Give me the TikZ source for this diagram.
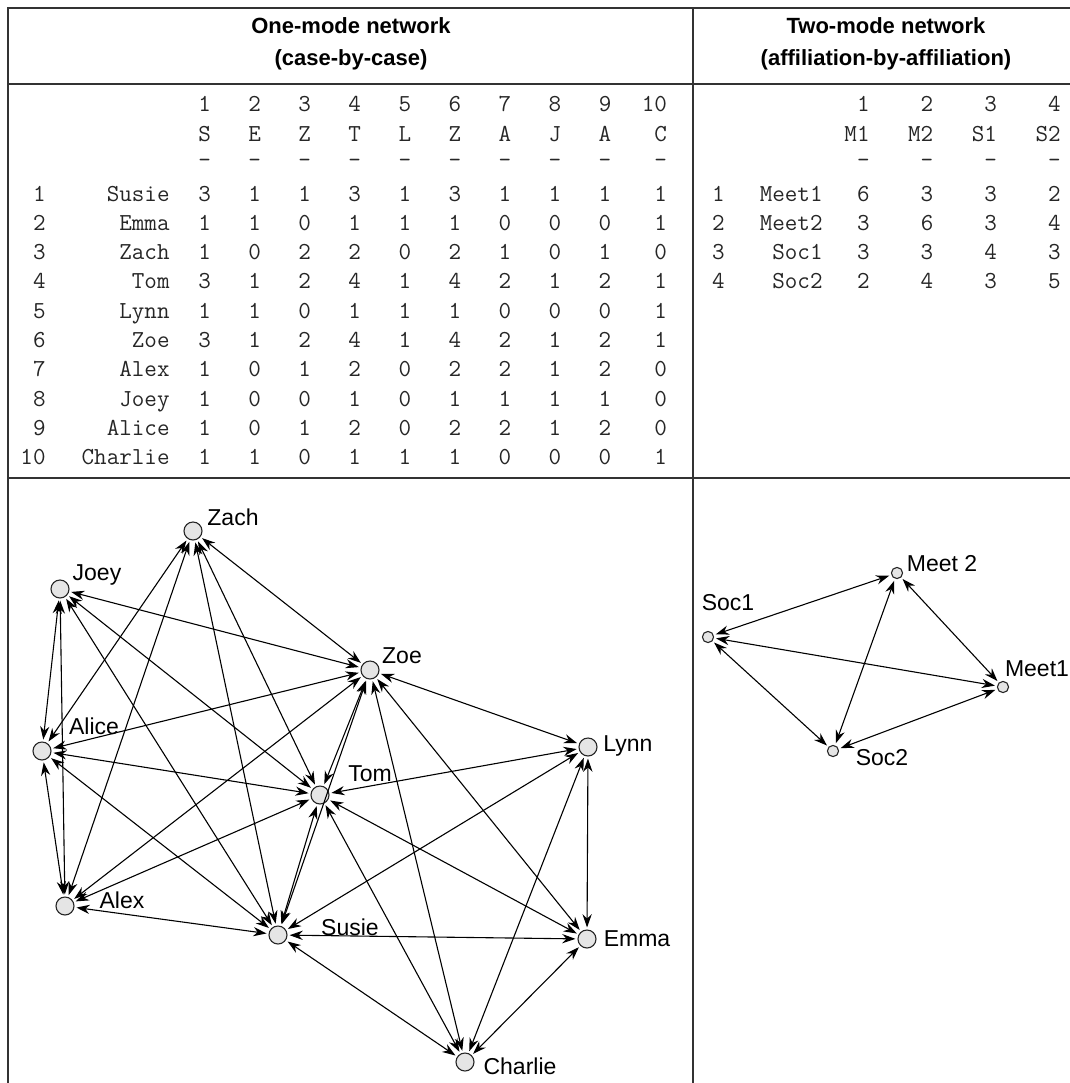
\documentclass[tikz,border=0pt]{standalone}
\usepackage{fontspec}
\setmainfont{Liberation Sans}
\usetikzlibrary{arrows.meta}

\tikzset{
  frame/.style={line width=0.8pt, black!80},
  head/.style={font=\bfseries\fontsize{11}{16}\selectfont, align=center, inner sep=0pt},
  cell/.style={font=\ttfamily\fontsize{12.2}{13}\selectfont, inner sep=0pt, anchor=base east, text=black!85},
  actor/.style={circle, draw=black!85, line width=0.55pt, fill=black!10, minimum size=9pt, inner sep=0pt},
  event/.style={actor, minimum size=5.6pt},
  tag/.style={font=\fontsize{11.5}{13}\selectfont, inner sep=0pt, text height=8.2pt, text depth=0pt},
  tie/.style={{Stealth[length=6.6pt,width=4.6pt]}-{Stealth[length=6.6pt,width=4.6pt]}, line width=0.55pt, shorten <=1pt, shorten >=1pt},
}

\begin{document}
\begin{tikzpicture}[x=0.5pt, y=-0.5pt]

\useasboundingbox (0,0) rectangle (1070,1083);

% ===== Frame =====
\draw[frame] (8,1083) -- (8,8) -- (1070,8);
\draw[frame] (8,84) -- (1070,84);
\draw[frame] (8,478) -- (1070,478);
\draw[frame] (693,8) -- (693,1083);

% ===== Headers =====
\node[head] (headone) at (351,44) {One-mode network\\(case-by-case)};
\node[head] (headtwo) at (886,44) {Two-mode network\\(affiliation-by-affiliation)};

% ===== One-mode table =====
% column numbers, initials and dashes
\foreach \n/\ini [count=\c] in {1/S,2/E,3/Z,4/T,5/L,6/Z,7/A,8/J,9/A,10/C} {
    \pgfmathsetmacro\cx{211.3+50.05*(\c-1)+5.6*(\c==10)}
    \node[cell] (onenum\c) at (\cx,111) {\n};
    \node[cell] (oneini\c) at (\cx,141) {\ini};
    \node[cell] (onedash\c) at (\cx,167) {-};
}

% rows
\foreach \r/\name/\vals in {1/Susie/{3,1,1,3,1,3,1,1,1,1},
                            2/Emma/{1,1,0,1,1,1,0,0,0,1},
                            3/Zach/{1,0,2,2,0,2,1,0,1,0},
                            4/Tom/{3,1,2,4,1,4,2,1,2,1},
                            5/Lynn/{1,1,0,1,1,1,0,0,0,1},
                            6/Zoe/{3,1,2,4,1,4,2,1,2,1},
                            7/Alex/{1,0,1,2,0,2,2,1,2,0},
                            8/Joey/{1,0,0,1,0,1,1,1,1,0},
                            9/Alice/{1,0,1,2,0,2,2,1,2,0},
                            10/Charlie/{1,1,0,1,1,1,0,0,0,1}} {
    \pgfmathsetmacro\ry{201+29.3*(\r-1)}
    \node[cell] (onerow\r) at (46,\ry) {\r};
    \node[cell] (onename\r) at (170,\ry) {\name};
    \foreach \v [count=\c] in \vals {
        \pgfmathsetmacro\cx{211.3+50.05*(\c-1)+5.6*(\c==10)}
        \node[cell] (one\r-\c) at (\cx,\ry) {\v};
    }
}

% ===== Two-mode table =====
\foreach \ini [count=\c] in {M1,M2,S1,S2} {
    \pgfmathsetmacro\cx{870+63.7*(\c-1)}
    \node[cell] (twonum\c) at (\cx,111) {\c};
    \node[cell] (twoini\c) at (\cx,141) {\ini};
    \node[cell] (twodash\c) at (\cx,167) {-};
}

\foreach \r/\name/\vals in {1/Meet1/{6,3,3,2},
                            2/Meet2/{3,6,3,4},
                            3/Soc1/{3,3,4,3},
                            4/Soc2/{2,4,3,5}} {
    \pgfmathsetmacro\ry{201+29.3*(\r-1)}
    \node[cell] (tworow\r) at (725,\ry) {\r};
    \node[cell] (twoname\r) at (823,\ry) {\name};
    \foreach \v [count=\c] in \vals {
        \pgfmathsetmacro\cx{870+63.7*(\c-1)}
        \node[cell] (two\r-\c) at (\cx,\ry) {\v};
    }
}

% ===== One-mode network graph =====
\node[actor] (zach) at (193,531) {};
\node[actor] (joey) at (60,589) {};
\node[actor] (zoe) at (370,670) {};
\node[actor] (alice) at (42,751) {};
\node[actor] (lynn) at (588,747) {};
\node[actor] (tom) at (320,795) {};
\node[actor] (alex) at (65,906) {};
\node[actor] (susie) at (278,935) {};
\node[actor] (emma) at (587,939) {};
\node[actor] (charlie) at (465,1062) {};

% Labels
\node[tag] (zachlabel) at (233,517) {Zach};
\node[tag] (joeylabel) at (97,572) {Joey};
\node[tag] (zoelabel) at (402,655) {Zoe};
\node[tag] (alicelabel) at (94,726) {Alice};
\node[tag] (lynnlabel) at (628,743) {Lynn};
\node[tag] (tomlabel) at (370,773) {Tom};
\node[tag] (alexlabel) at (122,900) {Alex};
\node[tag] (susielabel) at (350,927) {Susie};
\node[tag] (emmalabel) at (637,938) {Emma};
\node[tag] (charlielabel) at (520,1066) {Charlie};

% Susie is tied to everyone
\draw[tie] (susie) -- (emma);
\draw[tie] (susie) -- (zach);
\draw[tie] (susie) -- (tom);
\draw[tie] (susie) -- (lynn);
\draw[tie] (susie) -- (zoe);
\draw[tie] (susie) -- (alex);
\draw[tie] (susie) -- (joey);
\draw[tie] (susie) -- (alice);
\draw[tie] (susie) -- (charlie);

% Emma
\draw[tie] (emma) -- (tom);
\draw[tie] (emma) -- (lynn);
\draw[tie] (emma) -- (zoe);
\draw[tie] (emma) -- (charlie);

% Zach
\draw[tie] (zach) -- (tom);
\draw[tie] (zach) -- (zoe);
\draw[tie] (zach) -- (alex);
\draw[tie] (zach) -- (alice);

% Tom
\draw[tie] (tom) -- (lynn);
\draw[tie] (tom) -- (zoe);
\draw[tie] (tom) -- (alex);
\draw[tie] (tom) -- (joey);
\draw[tie] (tom) -- (alice);
\draw[tie] (tom) -- (charlie);

% Lynn
\draw[tie] (lynn) -- (zoe);
\draw[tie] (lynn) -- (charlie);

% Zoe
\draw[tie] (zoe) -- (alex);
\draw[tie] (zoe) -- (joey);
\draw[tie] (zoe) -- (alice);
\draw[tie] (zoe) -- (charlie);

% Alex, Joey and Alice
\draw[tie] (alex) -- (joey);
\draw[tie] (alex) -- (alice);
\draw[tie] (joey) -- (alice);

% ===== Two-mode network graph =====
\node[event] (meettwo) at (897,573) {};
\node[event] (socone) at (708,637) {};
\node[event] (meetone) at (1003,687) {};
\node[event] (soctwo) at (833,751) {};

% Labels
\node[tag] (meettwolabel) at (942,563) {Meet 2};
\node[tag] (soconelabel) at (728,602) {Soc1};
\node[tag] (meetonelabel) at (1037,668) {Meet1};
\node[tag] (soctwolabel) at (882,757) {Soc2};

% Ties
\draw[tie] (meetone) -- (meettwo);
\draw[tie] (meetone) -- (socone);
\draw[tie] (meetone) -- (soctwo);
\draw[tie] (meettwo) -- (socone);
\draw[tie] (meettwo) -- (soctwo);
\draw[tie] (socone) -- (soctwo);

\end{tikzpicture}
\end{document}
